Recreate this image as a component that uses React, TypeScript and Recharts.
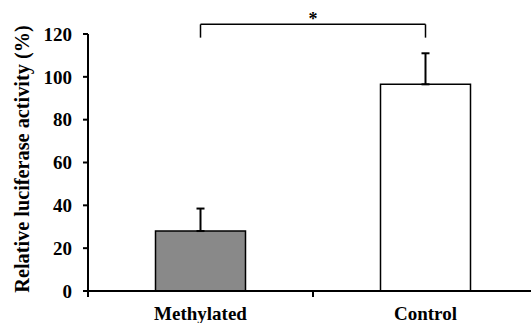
import {
  ComposedChart,
  Bar,
  Line,
  XAxis,
  YAxis,
  ErrorBar,
  ReferenceLine,
  Label,
} from 'recharts';

const categories = ['Methylated', 'Control'];
const activity = [28, 96.5];
const errorUp = [10.5, 14.5];
const yTicks = [0, 20, 40, 60, 80, 100, 120];
const barFills = ['#898989', '#ffffff'];
const bracketTop = 124.5;
const bracketFoot = 118.3;

const data = categories.map((name, i) => ({
  name,
  value: activity[i],
  err: [0, errorUp[i]],
  fill: barFills[i],
  pos: i + 0.5,
}));

const font = '"Liberation Serif", "Times New Roman", serif';

function YLabel() {
  return (
    <text
      x={22}
      y={159}
      transform="rotate(-90, 22, 159)"
      textAnchor="middle"
      dominantBaseline="central"
      fontFamily={font}
      fontWeight="bold"
      fontSize={20.3}
      fill="#000"
    >
      Relative luciferase activity (%)
    </text>
  );
}

function App() {
  return (
    <div
      style={{
        position: 'absolute',
        left: 0,
        top: 0,
        width: 531,
        height: 323,
        overflow: 'hidden',
        background: '#fff',
      }}
    >
      <ComposedChart
        width={538}
        height={323}
        data={data}
        margin={{ top: 34, right: 0, bottom: 0, left: 0 }}
        barCategoryGap="30%"
      >
        {/* boundary ticks + axis line */}
        <XAxis
          xAxisId={0}
          type="number"
          dataKey="pos"
          domain={[0, 2]}
          ticks={[0, 1, 2]}
          height={1}
          axisLine={{ stroke: '#000', strokeWidth: 2 }}
          tickLine={{ stroke: '#000', strokeWidth: 2 }}
          tickSize={6}
          tick={() => <g />}
        />
        <XAxis
          xAxisId="cat"
          dataKey="name"
          height={31}
          axisLine={false}
          tickLine={false}
          tickMargin={9}
          tick={{ fontSize: 19, fontWeight: 'bold', fill: '#000', fontFamily: font }}
        />
        <YAxis
          width={88}
          domain={[0, 120]}
          ticks={yTicks}
          interval={0}
          axisLine={{ stroke: '#000', strokeWidth: 2 }}
          tickLine={{ stroke: '#000', strokeWidth: 2 }}
          tickSize={5}
          tickMargin={11}
          tick={{ fontSize: 19, fontWeight: 'bold', fill: '#000', fontFamily: font }}
          label={{ content: () => <YLabel /> }}
        />
        <Bar
          xAxisId="cat"
          dataKey="value"
          stroke="#000"
          strokeWidth={1.5}
          isAnimationActive={false}
        >
          <ErrorBar
            dataKey="err"
            direction="y"
            width={4}
            stroke="#000"
            strokeWidth={2}
            isAnimationActive={false}
          />
        </Bar>
        <Line
          xAxisId={0}
          dataKey="value"
          stroke="none"
          dot={false}
          activeDot={false}
          legendType="none"
          isAnimationActive={false}
        />
        <ReferenceLine
          xAxisId="cat"
          ifOverflow="visible"
          segment={[
            { x: categories[0], y: bracketTop },
            { x: categories[1], y: bracketTop },
          ]}
          stroke="#000"
          strokeWidth={1.5}
        >
          <Label
            value="*"
            position="top"
            offset={-1}
            fontSize={18}
            fontWeight="bold"
            fill="#000"
            fontFamily={font}
          />
        </ReferenceLine>
        <ReferenceLine
          xAxisId="cat"
          ifOverflow="visible"
          segment={[
            { x: categories[0], y: bracketTop },
            { x: categories[0], y: bracketFoot },
          ]}
          stroke="#000"
          strokeWidth={1.5}
        />
        <ReferenceLine
          xAxisId="cat"
          ifOverflow="visible"
          segment={[
            { x: categories[1], y: bracketTop },
            { x: categories[1], y: bracketFoot },
          ]}
          stroke="#000"
          strokeWidth={1.5}
        />
      </ComposedChart>
    </div>
  );
}

export default App;
